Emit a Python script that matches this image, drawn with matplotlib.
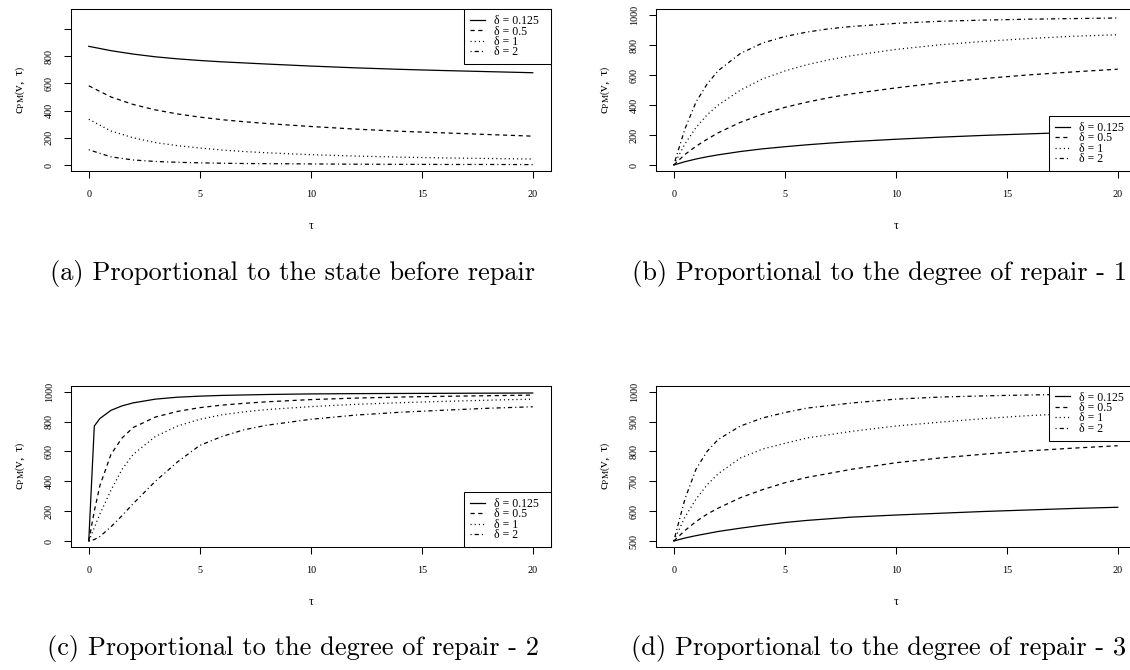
import numpy as np
import matplotlib
matplotlib.use('Agg')
import matplotlib.pyplot as plt

plt.rcParams['font.family'] = ['Liberation Serif', 'DejaVu Serif']
plt.rcParams['mathtext.fontset'] = 'custom'
plt.rcParams['mathtext.rm'] = 'Liberation Serif'
plt.rcParams['mathtext.it'] = 'Liberation Serif:italic'
plt.rcParams['lines.scale_dashes'] = False

deltas = ['0.125', '0.5', '1', '2']

# (a) proportional to the state before repair
tau_a = [0, 1, 2, 3, 4, 5, 6, 7, 8, 10, 12, 14, 16, 18, 20]
a_d0125 = [872, 840, 815, 795, 780, 768, 758, 750, 742, 727, 714, 703, 694, 686, 678]
a_d05 = [582, 500, 445, 405, 375, 352, 333, 318, 305, 283, 264, 248, 236, 224, 212]
a_d1 = [336, 250, 200, 165, 142, 125, 110, 99, 90, 76, 66, 58, 52, 48, 44]
a_d2 = [112, 60, 37, 26, 20, 16, 13, 11, 10, 8, 6, 5, 4, 4, 3]

# (b) proportional to the degree of repair - 1
tau_b = [0, 0.5, 1, 1.5, 2, 3, 4, 5, 6, 7, 8, 10, 12, 14, 16, 18, 20]
b_d0125 = [0, 22, 40, 55, 68, 90, 108, 122, 135, 146, 156, 172, 186, 198, 208, 218, 226]
b_d05 = [0, 70, 125, 172, 215, 285, 340, 385, 420, 450, 475, 515, 550, 578, 602, 622, 640]
b_d1 = [0, 140, 250, 335, 400, 500, 575, 628, 670, 703, 730, 772, 803, 826, 845, 860, 870]
b_d2 = [0, 240, 420, 540, 630, 745, 815, 858, 888, 910, 925, 946, 960, 968, 974, 978, 982]

# (c) proportional to the degree of repair - 2
tau_c = [0, 0.25, 0.5, 1, 1.5, 2, 3, 4, 5, 6, 7, 8, 10, 12, 14, 16, 18, 20]
c_d0125 = [0, 770, 820, 875, 905, 925, 950, 963, 970, 975, 978, 981, 985, 987, 988, 989, 990, 991]
c_d05 = [0, 200, 370, 580, 690, 760, 830, 868, 893, 910, 922, 932, 947, 957, 964, 969, 973, 977]
c_d1 = [0, 90, 180, 340, 480, 580, 700, 770, 815, 845, 865, 880, 900, 915, 926, 935, 943, 950]
c_d2 = [0, 10, 30, 95, 170, 250, 400, 530, 640, 700, 745, 775, 815, 843, 862, 876, 889, 899]

# (d) proportional to the degree of repair - 3
tau_d = [0, 0.5, 1, 1.5, 2, 3, 4, 5, 6, 8, 10, 12, 14, 16, 18, 20]
d_d0125 = [500, 510, 518, 525, 532, 543, 553, 562, 569, 580, 587, 593, 599, 604, 609, 613]
d_d05 = [500, 535, 565, 590, 610, 645, 672, 695, 713, 740, 762, 778, 791, 802, 811, 819]
d_d1 = [500, 580, 640, 688, 725, 778, 808, 827, 845, 867, 885, 898, 910, 920, 927, 933]
d_d2 = [500, 640, 740, 800, 840, 885, 912, 930, 945, 962, 975, 982, 986, 989, 991, 993]

styles = [dict(linestyle='-'),
          dict(linestyle=(0, (3.0, 2.6))),
          dict(linestyle=(0, (0.8, 2.2))),
          dict(linestyle=(0, (0.8, 2.2, 3.0, 2.2)))]

W, H = 1130, 670
fig = plt.figure(figsize=(W / 100, H / 100), dpi=100)


def panel(left, top, bottom, tau, series, ylim, yticks, ylabels, legloc):
    ax = fig.add_axes([left / W, 1 - bottom / H, 479.5 / W, (bottom - top) / H])
    for ys, st in zip(series, styles):
        ax.plot(tau, ys, color='black', lw=0.9, **st)
    ax.set_xlim(-0.8, 20.8)
    ax.set_ylim(*ylim)
    ax.set_xticks([0, 5, 10, 15, 20])
    ax.set_yticks(yticks)
    ax.set_yticklabels(ylabels, rotation=90, va='center')
    ax.tick_params(axis='both', length=5, width=0.75, labelsize=7.3, direction='out')
    ax.tick_params(axis='x', pad=9)
    ax.tick_params(axis='y', pad=7.5)
    for sp in ax.spines.values():
        sp.set_linewidth(0.75)
    ax.set_xlabel('τ', fontsize=8.5, labelpad=15)
    ax.set_ylabel(r'$\mathrm{c_{PM}}\left(\mathrm{v,\ \tau}\right)$', fontsize=9.5, labelpad=13)
    leg = ax.legend(['δ = ' + d + '  ' for d in deltas], loc=legloc, fontsize=8.5,
                    frameon=True, fancybox=False, edgecolor='black', framealpha=1,
                    borderaxespad=0, handlelength=1.27, handletextpad=0.76,
                    labelspacing=-0.14, borderpad=0.5)
    leg.get_frame().set_linewidth(0.75)
    return ax


panel(71, 9.3, 171, tau_a, [a_d0125, a_d05, a_d1, a_d2], (-44, 1144),
      [0, 200, 400, 600, 800, 1000], ['0', '200', '400', '600', '800', ''], 'upper right')
panel(656, 9.3, 171, tau_b, [b_d0125, b_d05, b_d1, b_d2], (-40, 1040),
      [0, 200, 400, 600, 800, 1000], ['0', '200', '400', '600', '800', '1000'], 'lower right')
panel(71, 385.7, 547, tau_c, [c_d0125, c_d05, c_d1, c_d2], (-40, 1040),
      [0, 200, 400, 600, 800, 1000], ['0', '200', '400', '600', '800', '1000'], 'lower right')
panel(656, 385.7, 547, tau_d, [d_d0125, d_d05, d_d1, d_d2], (480, 1020),
      [500, 600, 700, 800, 900, 1000], ['500', '600', '700', '800', '900', '1000'], 'upper right')

captions = ['(a) Proportional to the state before repair',
            '(b) Proportional to the degree of repair - 1',
            '(c) Proportional to the degree of repair - 2',
            '(d) Proportional to the degree of repair - 3']
cap_pos = [(293, 273), (879, 273), (293, 648), (879, 648)]
for txt, (cx, cy) in zip(captions, cap_pos):
    fig.text(cx / W, 1 - cy / H, txt, fontfamily='cmr10', fontsize=19,
             ha='center', va='center')

fig.savefig('out.png', dpi=100)
